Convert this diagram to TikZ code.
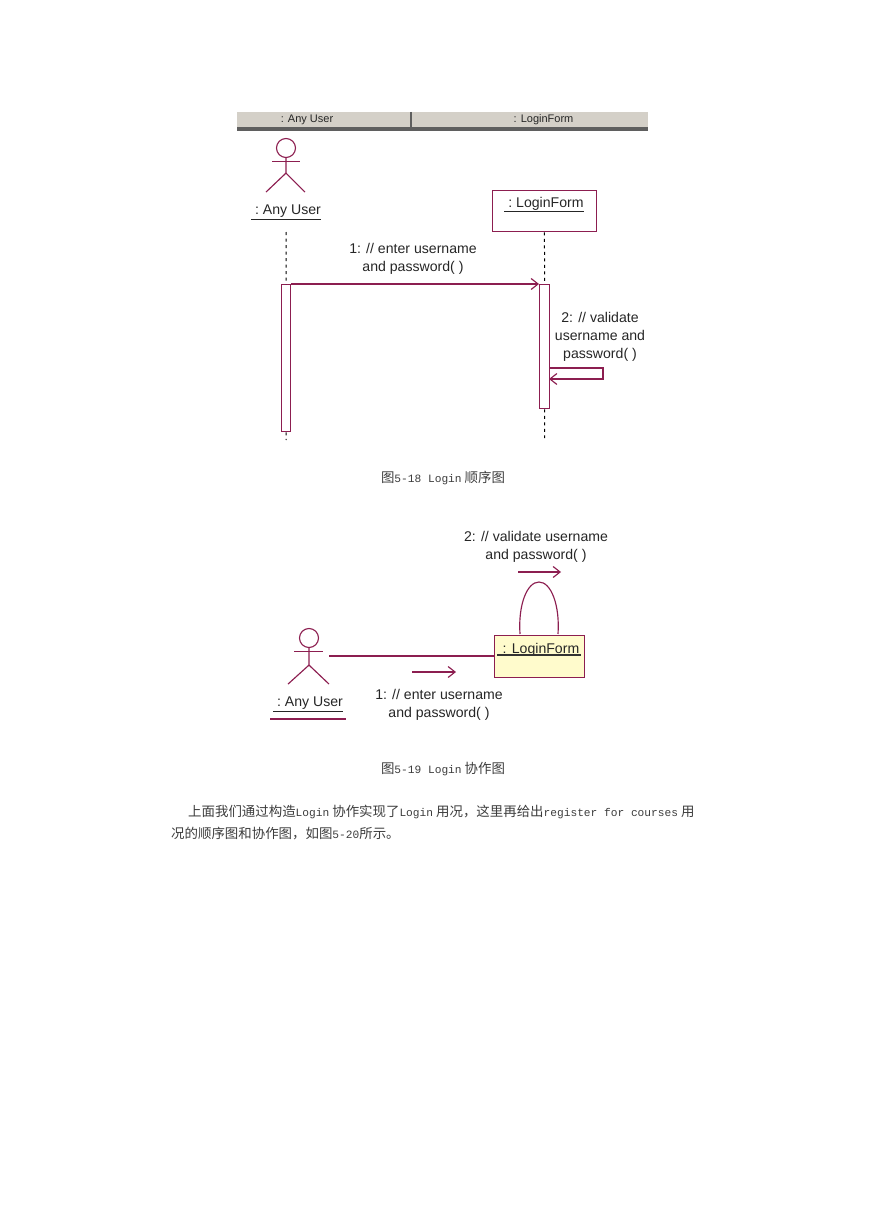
\documentclass[tikz,border=0pt]{standalone}
\usepackage{fontspec}
\setmainfont{Liberation Sans}
\newfontfamily\cjk[Scale=1.2]{Noto Sans CJK SC}
\newfontfamily\monofont{Liberation Mono}
\usetikzlibrary{arrows.meta}
\definecolor{umlline}{RGB}{140,30,80}
\definecolor{umlfill}{RGB}{255,251,204}
\definecolor{headbar}{RGB}{212,208,200}
\definecolor{headdark}{RGB}{95,95,95}
\definecolor{captext}{RGB}{60,60,60}

\begin{document}
\begin{tikzpicture}[
        x=1pt,y=-1pt,
        line/.style={umlline,line width=1.15pt},
        head/.style={circle,draw=umlline,line width=1.15pt,minimum size=19pt,inner sep=0pt},
        lifeline/.style={black,dashed,dash pattern=on 3pt off 3.5pt,line width=1pt},
        objbox/.style={draw=umlline,line width=1.3pt,inner sep=0pt,anchor=north west},
        active/.style={draw=umlline,fill=white,line width=1.3pt,inner sep=0pt,anchor=north west},
        msg/.style={line,-{Straight Barb[length=7pt,width=11pt]}},
        umltext/.style={font=\fontsize{14.1}{18}\selectfont,text=black!85,align=center,inner sep=0pt},
        headtext/.style={font=\fontsize{11}{12}\selectfont,text=black!85,inner sep=0pt},
        caption/.style={font=\fontsize{11.2}{14}\selectfont\monofont,text=captext,inner sep=0pt}
    ]
        \useasboundingbox (0,0) rectangle (869,1228);

        % Header bar
        \node[fill=headbar,minimum width=411pt,minimum height=15pt,inner sep=0pt,anchor=north west] (bar) at (237,112) {};
        \node[fill=headdark,minimum width=411pt,minimum height=4pt,inner sep=0pt,anchor=north west] (barline) at (237,127) {};
        \node[headtext] (barA) at (307,119.5) {: Any User};
        \node[headtext] (barB) at (543.5,119.5) {: LoginForm};
        \coordinate (sepT) at (411,112);
        \coordinate (sepB) at (411,128);
        \draw[headdark,line width=1.2pt] (sepT) -- (sepB);

        % Sequence diagram
        \node[head] (userA) at (286,148) {};
        \draw[line] (userA.south) -- ++(0,15) -- ++(-20,19);
        \draw[line] (userA.south) ++(0,15) -- ++(19,19);
        \draw[line] (userA.south) ++(-14,3.5) -- ++(28,0);
        \node[umltext] (labelA) at (286,212.5) {\underline{\ :\ Any User}};
        \node[objbox,minimum width=104.5pt,minimum height=41pt] (formA) at (491.5,190) {};
        \node[umltext] (formtextA) at (544,204.5) {\underline{\ :\ LoginForm}};
        \node[active,minimum width=9pt,minimum height=147pt] (actA) at (281,284) {};
        \node[active,minimum width=10pt,minimum height=124pt] (actB) at (539,284) {};
        \coordinate (lifeAtop) at (286,232);
        \coordinate (lifeAend) at (286,440);
        \coordinate (lifeBend) at (544.5,438);
        \draw[lifeline] (lifeAtop) -- (actA.north);
        \draw[lifeline] (actA.south) -- (lifeAend);
        \draw[lifeline] (formA.south) -- (actB.north);
        \draw[lifeline] (actB.south) -- (lifeBend);

        \draw[msg] (actA.north east) -- (actB.north west);
        \node[umltext] (msgA) at (413,259) {1: // enter username\\and password( )};
        \coordinate (selfA) at (549,368);
        \coordinate (selfB) at (603,368);
        \coordinate (selfC) at (603,379);
        \coordinate (selfD) at (549,379);
        \draw[msg] (selfA) -- (selfB) -- (selfC) -- (selfD);
        \node[umltext] (msgB) at (600,336.5) {2: // validate\\username and\\password( )};
        \node[caption] (capA) at (443,478) {{\cjk 图}5-18 Login\hspace{3pt}{\cjk 顺序图}};

        % Collaboration diagram
        \node[head] (userB) at (309,638) {};
        \draw[line] (userB.south) -- ++(0,17) -- ++(-21,19);
        \draw[line] (userB.south) ++(0,17) -- ++(20,19);
        \draw[line] (userB.south) ++(-15,3) -- ++(29,0);
        \node[umltext] (labelB) at (308,704.5) {\underline{\ :\ Any User}};
        \coordinate (barleft) at (270,719);
        \coordinate (barright) at (346,719);
        \draw[line] (barleft) -- (barright);
        \node[objbox,fill=umlfill,minimum width=90pt,minimum height=42pt] (formB) at (494,635) {};
        \node[umltext] (formtextB) at (541,649.5) {: LoginForm};
        \coordinate (rowL) at (497,655);
        \coordinate (rowR) at (581,655);
        \draw[line,black!80] (rowL) -- (rowR);
        \coordinate (assoc) at (329,656);
        \draw[line] (assoc) -- (assoc -| formB.west);
        \coordinate (loopL) at (520,634);
        \coordinate (loopR) at (558,634);
        \draw[line] (loopL) .. controls (518,605) and (527,582) .. (539,582) .. controls (551,582) and (560,605) .. (loopR);
        \coordinate (arrowAs) at (412,672);
        \coordinate (arrowAe) at (456,672);
        \coordinate (arrowBs) at (518,572);
        \coordinate (arrowBe) at (561,572);
        \draw[msg] (arrowAs) -- (arrowAe);
        \draw[msg] (arrowBs) -- (arrowBe);
        \node[umltext] (msgC) at (439,704.5) {1: // enter username\\and password( )};
        \node[umltext] (msgD) at (536,546.5) {2: // validate username\\and password( )};
        \node[caption] (capB) at (443,769) {{\cjk 图}5-19 Login\hspace{3pt}{\cjk 协作图}};

        % Body text
        \node[caption,anchor=west] (bodyA) at (188,812) {{\cjk 上面我们通过构造}Login\hspace{3pt}{\cjk 协作实现了}Login\hspace{3pt}{\cjk 用况，这里再给出}register for courses\hspace{3pt}{\cjk 用}};
        \node[caption,anchor=west] (bodyB) at (171,834) {{\cjk 况的顺序图和协作图，如图}5-20{\cjk 所示。}};
    \end{tikzpicture}
\end{document}
